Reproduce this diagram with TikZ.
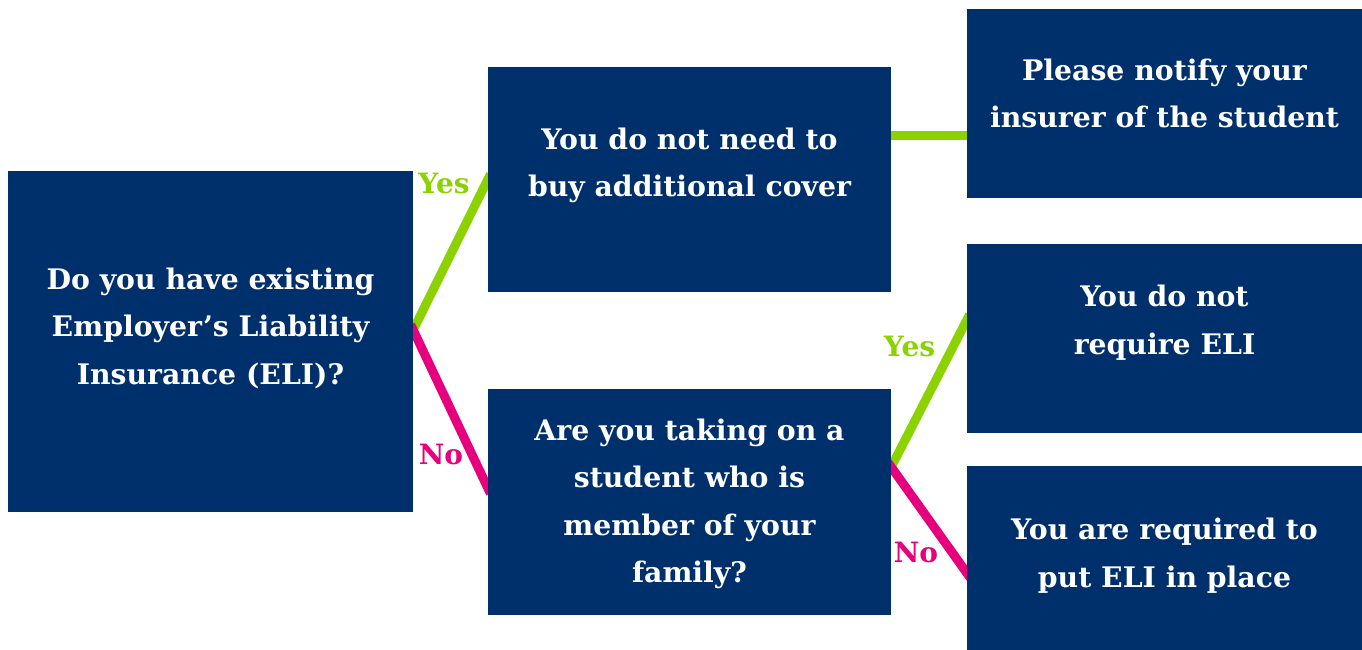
\documentclass[tikz,border=0pt]{standalone}
\usepackage{fontspec}
\setmainfont{DejaVu Serif}
\usetikzlibrary{calc, backgrounds}
\definecolor{navy}{HTML}{00306C}
\definecolor{yesgreen}{HTML}{8CD200}
\definecolor{nopink}{HTML}{E6007E}
\newcommand{\lifted}[2]{\raisebox{#1}[0pt][0pt]{\begin{tabular}{@{}c@{}}#2\end{tabular}}}
\begin{document}
\begin{tikzpicture}[x=1pt, y=-1pt, block/.style={rectangle, fill=navy, text=white, inner sep=0pt, font=\bfseries\fontsize{28.3}{47.5}\selectfont}, lbl/.style={font=\bfseries\fontsize{28}{30}\selectfont, inner sep=0pt}, yes/.style={-, yesgreen, line width=9pt, shorten <=-6pt, shorten >=-6pt}, no/.style={-, nopink, line width=9pt, shorten <=-6pt, shorten >=-6pt} ]
\useasboundingbox (0,0) rectangle (1362,650);
\node (b1) [block, minimum width=405, minimum height=341] at (210.5,341.5) {\lifted{8pt}{Do you have existing\\Employer's Liability\\Insurance (ELI)?}};
\node (b2) [block, minimum width=403, minimum height=225] at (689.5,179.5) {\lifted{10pt}{You do not need to\\buy additional cover}};
\node (b3) [block, minimum width=403, minimum height=226] at (689.5,502) {\lifted{-6pt}{Are you taking on a\\student who is\\member of your\\family?}};
\node (b4) [block, minimum width=395, minimum height=189] at (1164.5,103.5) {\lifted{3pt}{Please notify your\\insurer of the student}};
\node (b5) [block, minimum width=395, minimum height=189] at (1164.5,338.5) {\lifted{11.5pt}{You do not\\require ELI}};
\node (b6) [block, minimum width=395, minimum height=184] at (1164.5,558) {\lifted{-2pt}{You are required to\\put ELI in place}};
  \begin{scope}[on background layer]
    \draw [yes] ($(b1.east)+(0,-11.5)$) -- (b2.west);
    \draw [no] ($(b1.east)+(0,-11.5)$) -- ($(b3.west)+(0,-14)$);
    \draw [yes] ($(b2.east)+(0,-43.5)$) coordinate (c1) -- (c1 -| b4.west);
    \draw [yes] ($(b3.east)+(0,-35)$) -- ($(b5.west)+(0,-18.5)$);
    \draw [no] ($(b3.east)+(0,-35)$) -- ($(b6.west)+(0,15)$);
  \end{scope}
\node (y1) [lbl, text=yesgreen] at (444,183) {Yes};
\node (n1) [lbl, text=nopink] at (441,454) {No};
\node (y2) [lbl, text=yesgreen] at (909.5,346.5) {Yes};
\node (n2) [lbl, text=nopink] at (916,552) {No};
\end{tikzpicture}
\end{document}
